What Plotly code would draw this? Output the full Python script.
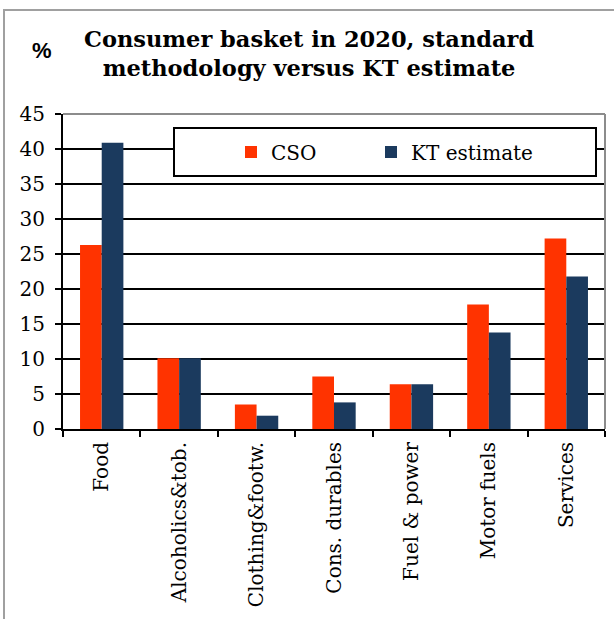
import plotly.graph_objects as go

# Consumer basket shares, 2020 (%)
categories = ["Food", "Alcoholics&tob.", "Clothing&footw.", "Cons. durables",
              "Fuel & power", "Motor fuels", "Services"]
series_names = ["CSO", "KT estimate"]
cso = [26.3, 10.1, 3.5, 7.5, 6.4, 17.8, 27.2]
kt_estimate = [40.9, 10.1, 1.9, 3.8, 6.4, 13.8, 21.8]
y_ticks = [0, 5, 10, 15, 20, 25, 30, 35, 40, 45]

W, H = 614, 619
L, R, T, B = 63, 605, 114, 429  # plot area in pixels


def px_x(p):
    return (p - L) / (R - L)


def px_y(p):
    return (B - p) / (B - T)


serif = "DejaVu Serif"
legend_font = dict(family=serif, size=20, color="black")

fig = go.Figure()
fig.add_trace(go.Bar(name=series_names[0], x=categories, y=cso,
                     marker_color="#FF3300", marker_line_width=0,
                     legend="legend"))
fig.add_trace(go.Bar(name=series_names[1], x=categories,
                     y=kt_estimate, marker_color="#1B3A5E",
                     marker_line_width=0, legend="legend2"))

fig.update_layout(
    width=W, height=H,
    margin=dict(l=L, r=W - R, t=T, b=H - B),
    paper_bgcolor="white", plot_bgcolor="white",
    barmode="group", bargap=0.44, bargroupgap=0,
    font=dict(family=serif, color="black"),
    showlegend=True,
    legend=dict(x=px_x(231), y=px_y(152), xanchor="left", yanchor="middle",
                bgcolor="rgba(0,0,0,0)", borderwidth=0, font=legend_font),
    legend2=dict(x=px_x(371), y=px_y(152), xanchor="left", yanchor="middle",
                 bgcolor="rgba(0,0,0,0)", borderwidth=0, font=legend_font),
    xaxis=dict(showline=True, linecolor="black", linewidth=2,
               ticks="outside", ticklen=6, tickwidth=2, tickcolor="black",
               tickson="boundaries", tickangle=-90, ticklabelstandoff=3,
               tickfont=dict(family=serif, size=20, color="black"),
               showgrid=False),
    yaxis=dict(range=[0, 45], tickvals=y_ticks, showline=True,
               linecolor="black", linewidth=2, ticks="outside", ticklen=6,
               tickwidth=2, tickcolor="black", showgrid=True,
               gridcolor="black", gridwidth=1.5, zeroline=False,
               ticklabelstandoff=6,
               tickfont=dict(family=serif, size=20, color="black")),
)

shapes = [
    # outer frame
    dict(type="rect", xref="paper", yref="paper", x0=px_x(4), x1=px_x(640),
         y0=px_y(640), y1=px_y(10), line=dict(color="#A0A0A0", width=2),
         layer="below"),
    # top and right edge of the plot area
    dict(type="line", xref="paper", yref="paper", x0=0, x1=1, y0=1, y1=1,
         line=dict(color="#8C8C8C", width=2), layer="above"),
    dict(type="line", xref="paper", yref="paper", x0=1, x1=1, y0=0, y1=1,
         line=dict(color="#8C8C8C", width=2), layer="above"),
    # legend box
    dict(type="rect", xref="paper", yref="paper", x0=px_x(174), x1=px_x(596),
         y0=px_y(176), y1=px_y(128), line=dict(color="black", width=2),
         fillcolor="white", layer="above"),
]
fig.update_layout(shapes=shapes)

fig.add_annotation(text="<b>Consumer basket in 2020, standard<br>methodology versus KT estimate</b>",
                   xref="paper", yref="paper", x=px_x(309), y=px_y(53),
                   xanchor="center", yanchor="middle", showarrow=False,
                   font=dict(family=serif, size=22.5, color="black"))
fig.add_annotation(text="<b>%</b>", xref="paper", yref="paper",
                   x=px_x(42), y=px_y(50), xanchor="center", yanchor="middle",
                   showarrow=False,
                   font=dict(family="Liberation Sans", size=22, color="black"))

fig.write_html("out.html")
